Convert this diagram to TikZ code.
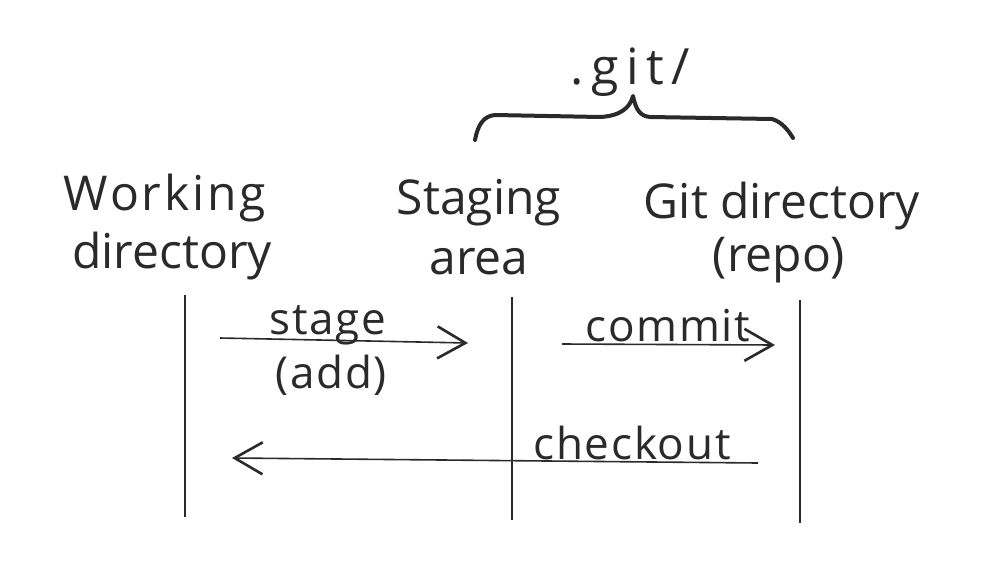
\documentclass[tikz,border=0pt]{standalone}
\usepackage{fontspec}
\setmainfont{Open Sans}
\usetikzlibrary{arrows.meta}
\definecolor{ink}{HTML}{2A2A2A}
\tikzset{
  lbl/.style={font=\fontsize{48}{52}\selectfont, text=ink, inner sep=0pt, anchor=base},
  small/.style={font=\fontsize{44}{48}\selectfont\addfontfeature{LetterSpace=4}, text=ink, inner sep=0pt, anchor=base},
  life/.style={draw=ink, line width=2.2pt},
  msg/.style={draw=ink, line width=1.6pt, -{Straight Barb[length=28pt,width=32pt,line width=2.6pt]}},
  brace/.style={draw=ink, line width=4pt, line cap=round, line join=round}
}
\begin{document}
\begin{tikzpicture}[x=1pt,y=-1pt]
\useasboundingbox[fill=white] (0,0) rectangle (1006,576);
% labels
\node[lbl, font=\fontsize{48}{52}\selectfont\addfontfeature{LetterSpace=6}] (w1) at (165,210) {Working};
\node[lbl] (w2) at (172,268) {directory};
\node[lbl] (s1) at (479,214) {Staging};
\node[lbl] (s2) at (479,274) {area};
\node[lbl] (g1) at (782,218) {Git directory};
\node[lbl] (g2) at (779,271) {(repo)};
\node[lbl, font=\fontsize{50}{54}\selectfont\addfontfeature{LetterSpace=15}] (git) at (630,84) {.git/};
% brace
\coordinate (bl) at (475,140);
\coordinate (br) at (793,138);
\coordinate (bt) at (633,96);
\draw[brace] (bl) .. controls (478,124) and (484,116) .. (495,115)
  -- (600,117) .. controls (620,116) and (630,108) .. (bt)
  .. controls (636,110) and (640,116) .. (650,117)
  -- (772,119) .. controls (782,122) and (788,130) .. (br);
% lifelines
\coordinate (wt) at (185,295); \coordinate (wb) at (185,517);
\coordinate (st) at (512,297); \coordinate (sb) at (512,520);
\coordinate (gt) at (800,300); \coordinate (gb) at (800,523);
\draw[life] (wt) -- (wb);
\draw[life] (st) -- (sb);
\draw[life] (gt) -- (gb);
% messages
\coordinate (a1s) at (220,338); \coordinate (a1e) at (468,343);
\coordinate (a2s) at (562,344); \coordinate (a2e) at (775,345);
\coordinate (a3s) at (758,463); \coordinate (a3e) at (232,458);
\draw[msg] (a1s) -- (a1e);
\draw[msg] (a2s) -- (a2e);
\draw[msg] (a3s) -- (a3e);
\node[small] (stg) at (328,334) {stage};
\node[small] (add) at (331,388) {(add)};
\node[small] (cmt) at (668,341) {commit};
\node[small] (chk) at (632,459) {checkout};
\end{tikzpicture}
\end{document}
